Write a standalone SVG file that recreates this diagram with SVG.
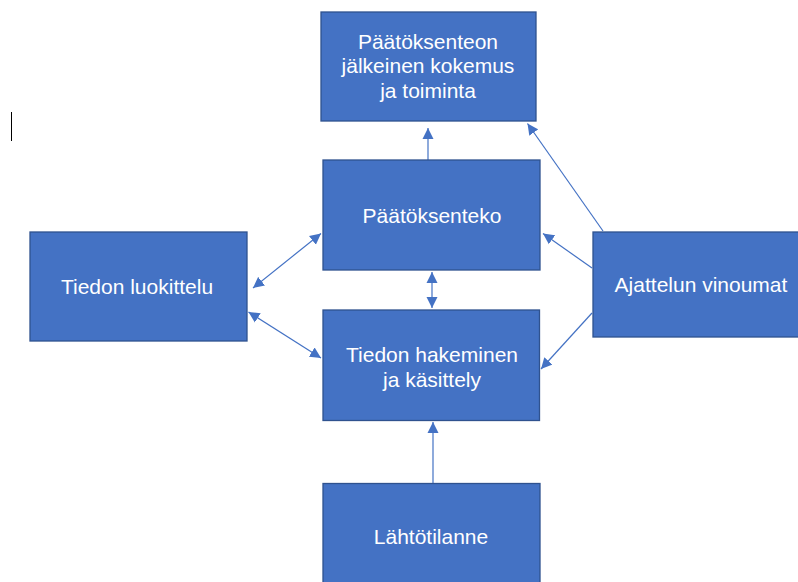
<svg xmlns="http://www.w3.org/2000/svg" width="798" height="582" viewBox="0 0 798 582">
  <style>
    .box { fill: #4472C4; stroke: #2F528F; stroke-width: 1.3; }
    .lbl { fill: #FFFFFF; font-family: "Liberation Sans", Arial, Helvetica, sans-serif; font-size: 21px; text-anchor: middle; }
    .link { stroke: #4472C4; stroke-width: 1.2; fill: none; }
  </style>
  <defs>
    <marker id="head" markerUnits="userSpaceOnUse" markerWidth="12" markerHeight="12" viewBox="0 0 12 12" refX="11" refY="6" orient="auto-start-reverse">
      <path d="M0,0.5 L11,6 L0,11.5 Z" fill="#4472C4"/>
    </marker>
  </defs>

  <rect width="798" height="582" fill="#FFFFFF"/>

  <!-- stray text cursor -->
  <line x1="11.5" y1="112" x2="11.5" y2="141" stroke="#000000" stroke-width="1"/>

  <g id="connectors">
    <line class="link" x1="428" y1="160" x2="428" y2="128" marker-end="url(#head)"/>
    <line class="link" x1="432" y1="272" x2="432" y2="308" marker-start="url(#head)" marker-end="url(#head)"/>
    <line class="link" x1="433" y1="483" x2="433" y2="422" marker-end="url(#head)"/>
    <line class="link" x1="253" y1="288" x2="321" y2="233.5" marker-start="url(#head)" marker-end="url(#head)"/>
    <line class="link" x1="248.5" y1="312" x2="321" y2="358" marker-start="url(#head)" marker-end="url(#head)"/>
    <line class="link" x1="603" y1="231" x2="527.5" y2="123.5" marker-end="url(#head)"/>
    <line class="link" x1="592" y1="268" x2="543" y2="233.5" marker-end="url(#head)"/>
    <line class="link" x1="592" y1="313" x2="541" y2="369" marker-end="url(#head)"/>
  </g>

  <g id="node-jalkeinen">
    <rect class="box" x="321" y="12" width="215" height="109"/>
    <text class="lbl" x="428" y="49">Päätöksenteon</text>
    <text class="lbl" x="428" y="73">jälkeinen kokemus</text>
    <text class="lbl" x="428" y="97.5">ja toiminta</text>
  </g>

  <g id="node-paatoksenteko">
    <rect class="box" x="323" y="160" width="217" height="110"/>
    <text class="lbl" x="432" y="223">Päätöksenteko</text>
  </g>

  <g id="node-luokittelu">
    <rect class="box" x="30" y="232" width="217" height="109"/>
    <text class="lbl" x="137" y="294">Tiedon luokittelu</text>
  </g>

  <g id="node-hakeminen">
    <rect class="box" x="323" y="310" width="216.5" height="110.5"/>
    <text class="lbl" x="432" y="362">Tiedon hakeminen</text>
    <text class="lbl" x="432" y="386.5">ja käsittely</text>
  </g>

  <g id="node-lahtotilanne">
    <rect class="box" x="323" y="483.5" width="217" height="110"/>
    <text class="lbl" x="431" y="544">Lähtötilanne</text>
  </g>

  <g id="node-vinoumat">
    <rect class="box" x="593" y="232" width="210" height="105"/>
    <text class="lbl" x="701" y="292">Ajattelun vinoumat</text>
  </g>
</svg>
